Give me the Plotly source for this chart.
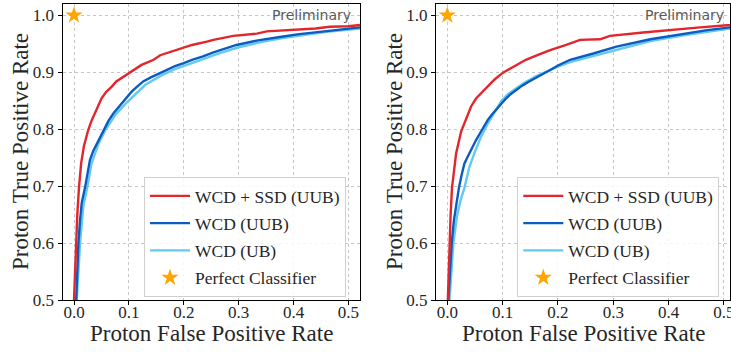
import plotly.graph_objects as go

# ---------------- data ----------------
# Left panel
red_L_x = [0.0, 0.002, 0.004, 0.006, 0.009, 0.013, 0.018, 0.026, 0.032, 0.039, 0.045, 0.050, 0.059,
           0.068, 0.077, 0.088, 0.0996, 0.110, 0.123, 0.135, 0.145, 0.157, 0.175, 0.193, 0.215, 0.242,
           0.254, 0.290, 0.333, 0.351, 0.406, 0.440, 0.466, 0.500, 0.521]
red_L_y = [0.50, 0.56, 0.60, 0.65, 0.697, 0.74, 0.770, 0.799, 0.815, 0.831, 0.845, 0.854, 0.866,
           0.874, 0.884, 0.891, 0.899, 0.905, 0.913, 0.918, 0.922, 0.930, 0.936, 0.942, 0.948, 0.954,
           0.957, 0.964, 0.968, 0.972, 0.975, 0.977, 0.980, 0.981, 0.983]

blue_L_x = [0.004, 0.008, 0.011, 0.014, 0.020, 0.025, 0.029, 0.035, 0.042, 0.048, 0.054, 0.063, 0.072,
            0.081, 0.090, 0.097, 0.105, 0.115, 0.126, 0.140, 0.157, 0.170, 0.184, 0.200, 0.215, 0.235,
            0.254, 0.296, 0.335, 0.375, 0.410, 0.448, 0.485, 0.521]
blue_L_y = [0.50, 0.60, 0.64, 0.67, 0.697, 0.725, 0.746, 0.762, 0.775, 0.788, 0.800, 0.815, 0.828,
            0.838, 0.848, 0.857, 0.866, 0.875, 0.884, 0.891, 0.899, 0.905, 0.911, 0.916, 0.922, 0.928,
            0.935, 0.948, 0.956, 0.962, 0.967, 0.971, 0.975, 0.979]

lblue_L_x = [0.005, 0.011, 0.017, 0.024, 0.032, 0.045, 0.058, 0.075, 0.094, 0.110, 0.130, 0.160, 0.190,
             0.220, 0.260, 0.300, 0.340, 0.380, 0.420, 0.460, 0.521]
lblue_L_y = [0.50, 0.60, 0.665, 0.697, 0.740, 0.775, 0.800, 0.825, 0.845, 0.860, 0.878, 0.895, 0.908,
             0.918, 0.932, 0.944, 0.953, 0.960, 0.966, 0.971, 0.977]

# Right panel
red_R_x = [0.001, 0.004, 0.006, 0.0085, 0.012, 0.016, 0.025, 0.034, 0.043, 0.052, 0.060, 0.067, 0.076,
           0.085, 0.100, 0.112, 0.124, 0.142, 0.165, 0.186, 0.215, 0.240, 0.276, 0.294, 0.354, 0.397,
           0.457, 0.511, 0.520]
red_R_y = [0.50, 0.60, 0.65, 0.697, 0.73, 0.758, 0.796, 0.819, 0.840, 0.854, 0.862, 0.869, 0.879,
           0.887, 0.899, 0.906, 0.913, 0.922, 0.931, 0.939, 0.948, 0.957, 0.958, 0.964, 0.970, 0.974,
           0.979, 0.983, 0.984]

blue_R_x = [0.002, 0.005, 0.008, 0.012, 0.014, 0.017, 0.021, 0.026, 0.031, 0.036, 0.040, 0.046, 0.052,
            0.061, 0.067, 0.073, 0.080, 0.088, 0.097, 0.106, 0.115, 0.124, 0.136, 0.148, 0.162, 0.178,
            0.186, 0.200, 0.222, 0.264, 0.306, 0.367, 0.427, 0.470, 0.520]
blue_R_y = [0.50, 0.56, 0.60, 0.64, 0.653, 0.67, 0.697, 0.72, 0.740, 0.750, 0.758, 0.770, 0.781,
            0.796, 0.806, 0.816, 0.825, 0.834, 0.845, 0.854, 0.862, 0.869, 0.877, 0.884, 0.891, 0.899,
            0.904, 0.912, 0.922, 0.933, 0.945, 0.958, 0.968, 0.974, 0.980]

lblue_R_x = [0.004, 0.008, 0.011, 0.018, 0.024, 0.031, 0.040, 0.049, 0.061, 0.072, 0.085, 0.098, 0.110,
             0.124, 0.140, 0.160, 0.180, 0.200, 0.222, 0.264, 0.306, 0.367, 0.427, 0.470, 0.520]
lblue_R_y = [0.50, 0.56, 0.60, 0.65, 0.675, 0.697, 0.734, 0.758, 0.787, 0.808, 0.830, 0.850, 0.862,
             0.872, 0.882, 0.893, 0.902, 0.910, 0.918, 0.929, 0.940, 0.955, 0.965, 0.971, 0.978]

perfect_x = [0.0]
perfect_y = [1.0]

names = ["WCD + SSD (UUB)", "WCD (UUB)", "WCD (UB)", "Perfect Classifier"]
x_ticks = [0.0, 0.1, 0.2, 0.3, 0.4, 0.5]
y_ticks = [0.5, 0.6, 0.7, 0.8, 0.9, 1.0]
x_title = "Proton False Positive Rate"
y_title = "Proton True Positive Rate"
watermark = "Preliminary"

# ---------------- styling ----------------
RED = "#e3262b"
BLUE = "#0a5cc0"
LBLUE = "#62c9f2"
STAR = "#ffa500"
SERIF = "Liberation Serif, serif"
TXT = "#262626"

W, H = 731, 354


def px(rx):
    return rx / W


def py(ry):
    return 1 - ry / H


fig = go.Figure()

panels = [
    dict(xa="x", ya="y", xax="xaxis", yax="yaxis", leg="legend",
         data=[(red_L_x, red_L_y), (blue_L_x, blue_L_y), (lblue_L_x, lblue_L_y)],
         dom=(62.7, 360.0), xr=[-0.0206, 0.521]),
    dict(xa="x2", ya="y2", xax="xaxis2", yax="yaxis2", leg="legend2",
         data=[(red_R_x, red_R_y), (blue_R_x, blue_R_y), (lblue_R_x, lblue_R_y)],
         dom=(436.0, 730.0), xr=[-0.0204, 0.511]),
]
colors = [RED, BLUE, LBLUE]
ytop, ybot = 4.0, 300.0
y_range = [0.5, 1.02]

for k, p in enumerate(panels):
    order = [2, 1, 0]
    for i in order:
        xs, ys = p["data"][i]
        fig.add_trace(go.Scatter(x=xs, y=ys, mode="lines", name=names[i],
                                 line=dict(color=colors[i], width=2.4),
                                 xaxis=p["xa"], yaxis=p["ya"], legend=p["leg"],
                                 legendgroup=f"g{k}{i}", legendrank=i + 1, hoverinfo="skip"))
    fig.add_trace(go.Scatter(x=perfect_x, y=perfect_y, mode="markers", name=names[3],
                             marker=dict(symbol="star", color=STAR, size=13, line=dict(width=0)),
                             xaxis=p["xa"], yaxis=p["ya"], legend=p["leg"], legendgroup=f"g{k}3",
                             legendrank=4, cliponaxis=False, hoverinfo="skip"))

axis_common = dict(showline=True, linecolor="black", linewidth=1.2, mirror=True,
                   ticks="outside", ticklen=4, tickwidth=1, tickcolor="black",
                   showgrid=True, gridcolor="#b8b8b8", gridwidth=0.8, griddash="dot",
                   zeroline=False, tickfont=dict(family=SERIF, size=17, color=TXT),
                   tickformat=".1f", fixedrange=True, automargin=False)

layout = dict(width=W, height=H, margin=dict(l=0, r=0, t=0, b=0, pad=0),
              paper_bgcolor="white", plot_bgcolor="white", showlegend=True,
              font=dict(family=SERIF, size=17, color=TXT), hovermode=False)

annotations = []
for k, p in enumerate(panels):
    x0, x1 = p["dom"]
    layout[p["xax"]] = dict(axis_common, domain=[px(x0), px(x1)], range=p["xr"],
                            tickvals=x_ticks, anchor=p["ya"], ticklabelstandoff=-8,
                            ticklabeloverflow="allow")
    layout[p["yax"]] = dict(axis_common, domain=[py(ybot), py(ytop)], range=y_range,
                            tickvals=y_ticks, anchor=p["xa"])
    lx = 144.0 if k == 0 else 517.3
    layout[p["leg"]] = dict(x=px(lx), y=py(177.0), xanchor="left", yanchor="top",
                            xref="paper", yref="paper",
                            bgcolor="rgba(255,255,255,0.85)", bordercolor="#d0d0d0", borderwidth=1,
                            font=dict(family=SERIF, size=17.5, color=TXT),
                            traceorder="grouped", tracegroupgap=1.5, itemwidth=40)
    annotations.append(dict(text=x_title, xref="paper", yref="paper",
                            x=px((x0 + x1) / 2), y=py(333.0), xanchor="center", yanchor="middle",
                            showarrow=False, font=dict(family=SERIF, size=23, color=TXT)))
    ycx = 20.0 if k == 0 else 394.0
    annotations.append(dict(text=y_title, xref="paper", yref="paper", textangle=-90,
                            x=px(ycx), y=py(152.0), xanchor="center", yanchor="middle",
                            showarrow=False, font=dict(family=SERIF, size=23, color=TXT)))
    wx_px = 352.7 if k == 0 else 726.0
    annotations.append(dict(text=watermark, xref="paper", yref="paper",
                            x=px(wx_px), y=py(15.5), xanchor="right", yanchor="middle", showarrow=False,
                            font=dict(family="DejaVu Sans", size=14, color="#5a5a5a")))

layout["annotations"] = annotations
fig.update_layout(**layout)

# remove the default 8px page margin so the figure fills the window exactly
fig.write_html("out.html",
               config={"displayModeBar": False, "staticPlot": True},
               post_script="document.body.style.margin='0';document.body.style.overflow='hidden';")
